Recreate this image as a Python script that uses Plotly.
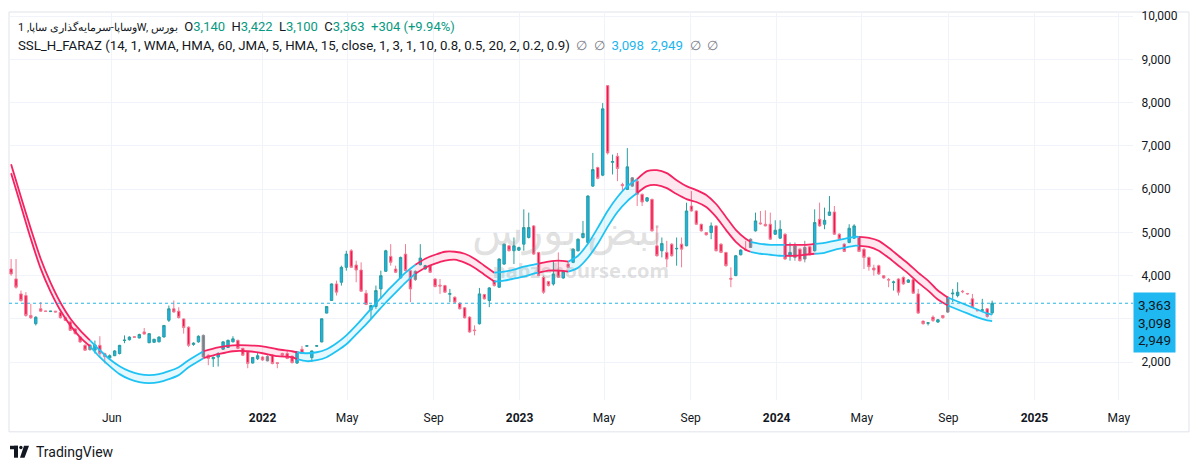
import plotly.graph_objects as go
import pandas as pd

# ---------------- data (weekly candles) ----------------
start_date = "2021-01-09"
opens = [4155, 3925, 3579, 3540, 3081, 2890, 3235, 3185, 3170, 3180,
         3150, 3030, 2930, 2770, 2583, 2391, 2390, 2280, 2391, 2200,
         2100, 2150, 2200, 2500, 2520, 2590, 2560, 2700, 2450, 2460,
         2470, 2583, 2970, 3235, 3180, 3000, 2810, 2410, 2470, 2620,
         2160, 2080, 2120, 2300, 2340, 2470, 2506, 2320, 2240, 1980,
         2080, 2120, 2130, 2160, 1990, 2200, 2200, 2140, 1980, 2300,
         2370, 2107, 2370, 2468, 3135, 3426, 3809, 3848, 4193, 4576,
         4246, 4131, 3595, 3211, 3288, 3694, 4101, 4446, 4154, 3947,
         4499, 4116, 3910, 4254, 4154, 4231, 3924, 3780, 3771, 3570,
         3503, 3365, 3257, 3042, 2745, 2889, 3564, 3426, 3886, 3733,
         4269, 4691, 4576, 4590, 4729, 4883, 5151, 4538, 3963, 3863,
         3809, 4131, 3947, 4269, 4308, 4576, 4883, 4768, 6071, 6500,
         6324, 8394, 6620, 6761, 6110, 5994, 6263, 6186, 5880, 5726,
         5765, 4691, 4576, 4538, 4729, 4620, 4729, 4691, 5611, 5496,
         5189, 4998, 4998, 5151, 4729, 4538, 3940, 4001, 4484, 4610,
         4653, 5036, 5220, 5189, 5189, 4959, 4867, 4959, 4461, 4423,
         4614, 4384, 4668, 4576, 5304, 5189, 5396, 5473, 4959, 4730,
         4768, 4867, 4883, 4614, 4423, 4177, 4231, 4001, 3910, 3840,
         3924, 3963, 3847, 3909, 3579, 2950, 2900, 3043, 2928, 3081,
         3158, 3580, 3541, 3640, 3590, 3465, 3200, 3200, 3234, 3140]
highs = [4385, 4385, 3656, 3620, 3350, 3060, 3390, 3190, 3185, 3185,
         3160, 3050, 2960, 2780, 2600, 2410, 2420, 2500, 2600, 2220,
         2180, 2280, 2400, 2620, 2600, 2600, 2660, 2790, 2670, 2540,
         2600, 2860, 3310, 3426, 3270, 3010, 2830, 2460, 2620, 2640,
         2180, 2130, 2230, 2480, 2520, 2600, 2520, 2330, 2250, 2120,
         2230, 2140, 2160, 2180, 2000, 2220, 2270, 2150, 2250, 2376,
         2390, 2270, 2385, 3010, 3295, 3820, 3886, 4231, 4576, 4614,
         4346, 4308, 3671, 3330, 3771, 4116, 4600, 4729, 4231, 4440,
         4729, 4130, 4120, 4729, 4250, 4250, 3940, 3924, 3790, 3694,
         3520, 3380, 3270, 3060, 2851, 3717, 3580, 3733, 3900, 4400,
         4740, 4700, 4883, 4670, 5534, 5458, 5170, 4550, 4001, 3880,
         4346, 4538, 4120, 4346, 4630, 4860, 5266, 5860, 6838, 6520,
         7990, 8394, 6800, 6838, 6150, 6950, 6280, 6263, 5900, 5820,
         5780, 5151, 4883, 4806, 4750, 4883, 4883, 5687, 5956, 5510,
         5200, 5010, 5230, 5170, 4750, 4550, 4193, 4480, 4610, 4806,
         4860, 5458, 5496, 5511, 5458, 5281, 5281, 4980, 4768, 4768,
         4630, 4806, 4690, 5534, 5688, 5573, 5841, 5611, 4980, 4750,
         5189, 5189, 4900, 4630, 4440, 4254, 4254, 4010, 3947, 3886,
         3940, 3980, 3920, 3920, 3694, 2960, 2930, 3081, 3000, 3090,
         3520, 3694, 3848, 3671, 3600, 3579, 3210, 3465, 3250, 3422]
lows = [4000, 3700, 3400, 3050, 3000, 2850, 3170, 3170, 3165, 3155,
        3010, 2950, 2720, 2640, 2450, 2260, 2270, 2200, 2100, 1970,
        2080, 2140, 2180, 2440, 2500, 2560, 2550, 2640, 2440, 2450,
        2460, 2570, 2930, 3150, 3010, 2660, 2350, 2380, 2450, 2110,
        1930, 1890, 1900, 2290, 2330, 2460, 2300, 2140, 1860, 1970,
        2050, 2030, 2020, 1950, 1860, 2140, 2070, 1970, 1960, 2190,
        2360, 2007, 2365, 2460, 3130, 3420, 3541, 3771, 4116, 4180,
        3848, 3630, 3320, 3004, 3234, 3464, 4090, 4231, 4060, 3930,
        4100, 3388, 3880, 4240, 4140, 4060, 3730, 3579, 3600, 3388,
        3370, 3220, 3010, 2680, 2621, 2870, 3450, 3273, 3750, 3720,
        4250, 4560, 4269, 4570, 4576, 4860, 4480, 3990, 3579, 3750,
        3771, 3950, 3930, 4180, 4290, 4560, 4860, 4750, 6050, 6230,
        6300, 6800, 6340, 6186, 5956, 5980, 6050, 5610, 5610, 5700,
        5020, 4440, 4423, 4193, 4440, 4231, 4193, 4680, 5480, 5170,
        5020, 4930, 4843, 4560, 4520, 4210, 3733, 3990, 4470, 4580,
        4640, 5020, 5180, 5140, 4830, 4940, 4850, 4370, 4346, 4346,
        4330, 4308, 4470, 4560, 5130, 5074, 5380, 4940, 4830, 4545,
        4750, 4850, 4545, 4155, 4116, 4001, 4020, 3930, 3733, 3656,
        3541, 3790, 3830, 3580, 3120, 2870, 2850, 2930, 2910, 3010,
        3140, 3388, 3500, 3595, 3560, 3260, 3180, 3158, 3030, 3100]
closes = [4040, 3733, 3426, 3081, 3028, 3040, 3180, 3175, 3180, 3160,
          3028, 2966, 2736, 2660, 2467, 2276, 2290, 2400, 2199, 2130,
          2150, 2260, 2390, 2510, 2580, 2575, 2640, 2650, 2660, 2530,
          2580, 2850, 3235, 3160, 3030, 2800, 2390, 2440, 2600, 2123,
          2085, 2110, 2200, 2470, 2506, 2540, 2320, 2160, 1970, 2110,
          2150, 2050, 2030, 1970, 1970, 2160, 2085, 1990, 2240, 2200,
          2380, 2261, 2380, 3004, 3288, 3809, 3618, 4193, 4499, 4193,
          4131, 3641, 3334, 3311, 3656, 4001, 4576, 4308, 4078, 4423,
          4116, 3694, 4100, 4407, 4231, 4078, 3748, 3760, 3618, 3585,
          3388, 3234, 3027, 2698, 2730, 3579, 3464, 3717, 3771, 4384,
          4729, 4576, 4691, 4650, 5113, 5113, 4499, 4001, 3618, 3771,
          4039, 3963, 4101, 4193, 4614, 4844, 4975, 5841, 6454, 6250,
          7857, 6838, 6640, 6477, 6080, 6516, 6071, 5880, 5703, 5800,
          5036, 4461, 4745, 4384, 4461, 4630, 4614, 5496, 5496, 5189,
          5036, 4944, 5151, 4576, 4538, 4231, 3920, 4461, 4591, 4595,
          4844, 5266, 5200, 5151, 4844, 5051, 5074, 4384, 4538, 4691,
          4346, 4653, 4484, 5228, 5151, 5281, 5473, 4959, 4845, 4561,
          5097, 5151, 4561, 4423, 4208, 4131, 4039, 3947, 3900, 3855,
          3618, 3809, 3900, 3595, 3135, 2889, 2910, 2966, 2981, 3027,
          3503, 3595, 3618, 3630, 3580, 3273, 3190, 3210, 3059, 3363]
# candles the indicator paints neutral grey (week indices)
gray_candles = [16, 39, 52, 82, 126, 150, 159, 161, 190]

# SSL channel (upper / lower line) sampled at week indices; bull = 1 blue, 0 red
band_idx = [0, 2, 4, 6, 8, 10, 12, 14, 16, 18, 20, 22, 24, 26, 28, 30, 32, 34, 36, 38,
            39, 42, 45, 48, 51, 54, 57, 58, 60, 62, 64, 66, 68, 70, 72, 74, 76, 78, 80,
            82, 84, 86, 88, 90, 92, 94, 96, 98, 100, 102, 104, 106, 107, 109, 111, 113,
            115, 117, 119, 121, 123, 125, 127, 129, 131, 133, 135, 137, 139, 141, 143,
            145, 147, 149, 150, 152, 154, 156, 157, 159, 161, 163, 165, 167, 169, 171,
            172, 174, 176, 178, 180, 182, 184, 186, 188, 190, 192, 194, 196, 198, 199]
band_upper = [6577, 5818, 5082, 4392, 3840, 3380, 3012, 2736, 2506, 2276, 2069, 1908,
              1793, 1724, 1701, 1724, 1793, 1885, 2046, 2184,
              2253, 2345, 2391, 2391, 2368, 2299, 2253, 2230, 2207, 2230, 2299, 2437,
              2621, 2851, 3104, 3357, 3610, 3840, 4070,
              4254, 4392, 4484, 4553, 4553, 4507, 4392, 4231, 4070, 4093, 4139, 4208,
              4254, 4277, 4323, 4346, 4323,
              4461, 4737, 5105, 5496, 5818, 6071, 6232, 6416, 6439, 6370, 6209, 6071,
              5979, 5864, 5657,
              5358, 5059, 4852, 4783, 4737, 4714, 4714, 4714, 4714, 4714, 4737, 4760,
              4806, 4852, 4898,
              4898, 4875, 4806, 4645, 4461, 4277, 4070, 3886, 3656, 3495, 3403, 3311,
              3219, 3127, 3098]
band_lower = [6370, 5611, 4852, 4162, 3633, 3196, 2851, 2575, 2368, 2115, 1908, 1724,
              1609, 1540, 1517, 1540, 1609, 1701, 1885, 2023,
              2092, 2184, 2253, 2253, 2207, 2138, 2115, 2069, 2023, 2046, 2115, 2253,
              2414, 2644, 2874, 3127, 3380, 3610, 3840,
              4047, 4185, 4277, 4346, 4369, 4300, 4185, 4024, 3863, 3886, 3932, 3978,
              4047, 4070, 4116, 4116, 4093,
              4185, 4415, 4737, 5128, 5473, 5726, 5910, 6071, 6094, 6025, 5887, 5772,
              5703, 5588, 5358,
              5059, 4783, 4599, 4553, 4507, 4484, 4461, 4461, 4461, 4484, 4507, 4530,
              4599, 4645, 4691,
              4691, 4668, 4576, 4415, 4231, 4047, 3840, 3656, 3449, 3311, 3219, 3127,
              3035, 2966, 2949]
band_bull = [0, 0, 0, 0, 0, 0, 0, 0, 1, 1, 1, 1, 1, 1, 1, 1, 1, 1, 1, 1,
             0, 0, 0, 0, 0, 0, 0, 1, 1, 1, 1, 1, 1, 1, 1, 1, 1, 1, 1,
             0, 0, 0, 0, 0, 0, 0, 0, 1, 1, 1, 1, 1, 0, 0, 0, 1,
             1, 1, 1, 1, 1, 1, 0, 0, 0, 0, 0, 0, 0, 0, 0,
             0, 0, 0, 1, 1, 1, 1, 0, 0, 0, 1, 1, 1, 1, 1,
             0, 0, 0, 0, 0, 0, 0, 0, 0, 1, 1, 1, 1, 1, 1]

tick_dates = ["2021-06-01", "2022-01-01", "2022-05-01", "2022-09-01", "2023-01-01",
              "2023-05-01", "2023-09-01", "2024-01-01", "2024-05-01", "2024-09-01",
              "2025-01-01", "2025-05-01"]
tick_text = ["Jun", "<b>2022</b>", "May", "Sep", "<b>2023</b>", "May", "Sep",
             "<b>2024</b>", "May", "Sep", "<b>2025</b>", "May"]
price_ticks = [2000, 3000, 4000, 5000, 6000, 7000, 8000, 9000, 10000]
hidden_price_labels = [3000]   # covered by the last-value box in the reference

symbol_title = "وساپا-سرمایه‌گذاری ساپا, 1W, بورس"
indicator_title = "SSL_H_FARAZ (14, 1, WMA, HMA, 60, JMA, 5, HMA, 15, close, 1, 3, 1, 10, 0.8, 0.5, 20, 2, 0.2, 0.9)"

# ---------------- figure ----------------
FONT = "Roboto, 'Open Sans', sans-serif"
W, H = 1200, 470
ML, MR, MT, MB = 9, 67, 10, 70
PW, PH = W - ML - MR, H - MT - MB

def px(x):
    return (x - ML) / PW

def py(y):
    return (H - MB - y) / PH

dates = pd.date_range(start_date, periods=len(opens), freq="7D")
bdates = [dates[i] for i in band_idx]

UP_FILL, UP_LINE = "#1ab3ea", "#2a9d9f"
DN_FILL, DN_LINE = "#f5154d", "#f27c95"
GR_FILL, GR_LINE = "#7c7f88", "#8a8d96"
BULL_LINE, BULL_FILL = "#1fc3f3", "rgba(31,195,243,0.12)"
BEAR_LINE, BEAR_FILL = "#f42462", "rgba(244,36,98,0.11)"

fig = go.Figure()

# watermark (behind everything)
fig.add_trace(go.Scatter(x=[pd.Timestamp("2023-03-10")], y=[4960], mode="text",
                         text=["نبض بورس"], textfont=dict(size=42, color="rgba(150,150,150,0.28)",
                                                           family="Noto Sans"),
                         hoverinfo="skip", showlegend=False))
fig.add_trace(go.Scatter(x=[pd.Timestamp("2023-03-29")], y=[4070], mode="text",
                         text=["<b>nabzebourse.com</b>"],
                         textfont=dict(size=20, color="rgba(150,150,150,0.30)", family="Noto Sans"),
                         hoverinfo="skip", showlegend=False))

# band segments
n = len(band_idx)
k = 0
while k < n - 1:
    state = band_bull[k]
    j = k
    while j < n - 1 and band_bull[j] == state:
        j += 1
    xs = bdates[k:j + 1]
    lc = BULL_LINE if state else BEAR_LINE
    fc = BULL_FILL if state else BEAR_FILL
    fig.add_trace(go.Scatter(x=xs, y=band_lower[k:j + 1], mode="lines",
                             line=dict(color=lc, width=1.8, shape="spline", smoothing=0.8),
                             hoverinfo="skip", showlegend=False))
    fig.add_trace(go.Scatter(x=xs, y=band_upper[k:j + 1], mode="lines", fill="tonexty",
                             fillcolor=fc,
                             line=dict(color=lc, width=1.8, shape="spline", smoothing=0.8),
                             hoverinfo="skip", showlegend=False))
    k = j

norm = [i for i in range(len(opens)) if i not in gray_candles]
fig.add_trace(go.Candlestick(
    x=[dates[i] for i in norm], open=[opens[i] for i in norm], high=[highs[i] for i in norm],
    low=[lows[i] for i in norm], close=[closes[i] for i in norm],
    increasing=dict(fillcolor=UP_FILL, line=dict(color=UP_LINE, width=1)),
    decreasing=dict(fillcolor=DN_FILL, line=dict(color=DN_LINE, width=1)),
    whiskerwidth=0, showlegend=False))
fig.add_trace(go.Candlestick(
    x=[dates[i] for i in gray_candles], open=[opens[i] for i in gray_candles],
    high=[highs[i] for i in gray_candles], low=[lows[i] for i in gray_candles],
    close=[closes[i] for i in gray_candles],
    increasing=dict(fillcolor=GR_FILL, line=dict(color=GR_LINE, width=1)),
    decreasing=dict(fillcolor=GR_FILL, line=dict(color=GR_LINE, width=1)),
    whiskerwidth=0, showlegend=False))

last_close = closes[-1]
fig.add_shape(type="line", xref="paper", yref="y", x0=0, x1=1, y0=last_close, y1=last_close,
              line=dict(color="#22b5e6", width=1, dash="dot"))

# outer frame
fig.add_shape(type="rect", xref="paper", yref="paper", x0=0, x1=px(1189), y0=py(432), y1=1,
              line=dict(color="#e0e3eb", width=1), fillcolor="rgba(0,0,0,0)", layer="below")

green = "#089981"
chg = closes[-1] - closes[-2]
pct = chg / closes[-2] * 100
GAP = "\u00a0\u00a0"
line1 = (f"<span style='font-size:11px'>{symbol_title}</span>{GAP}"
         f"O<span style='color:{green}'>{opens[-1]:,}</span>{GAP}"
         f"H<span style='color:{green}'>{highs[-1]:,}</span>{GAP}"
         f"L<span style='color:{green}'>{lows[-1]:,}</span>{GAP}"
         f"C<span style='color:{green}'>{closes[-1]:,}</span>{GAP}"
         f"<span style='color:{green}'>+{chg:,} (+{pct:.2f}%)</span>")
fig.add_annotation(xref="paper", yref="paper", x=px(16), y=py(25), xanchor="left", yanchor="middle",
                   text=line1, showarrow=False, font=dict(family=FONT, size=13, color="#131722"))
line2 = (f"{indicator_title}{GAP}<span style='color:#787b86'>∅{GAP}∅</span>{GAP}"
         f"<span style='color:#1cb5ee'>{band_upper[-1]:,}{GAP}{band_lower[-1]:,}</span>{GAP}"
         f"<span style='color:#787b86'>∅{GAP}∅</span>")
fig.add_annotation(xref="paper", yref="paper", x=px(16), y=py(44), xanchor="left", yanchor="middle",
                   text=line2, showarrow=False, font=dict(family=FONT, size=13.25, color="#131722"))

# price label box
fig.add_annotation(xref="paper", yref="y", x=1.0, y=last_close, xanchor="left", yanchor="top",
                   yshift=11, text=f"{closes[-1]:,}<br>{band_upper[-1]:,}<br>{band_lower[-1]:,}",
                   showarrow=False, align="right", bgcolor="#20b8f0", borderpad=4,
                   font=dict(family=FONT, size=13.5, color="#131722"))

# TradingView footer
fig.add_annotation(xref="paper", yref="paper", x=px(34), y=py(452), xanchor="left", yanchor="middle",
                   text="TradingView", showarrow=False,
                   font=dict(family=FONT, size=14, color="#131722"))
fig.add_shape(type="rect", xref="paper", yref="paper", x0=px(10), x1=px(18), y0=py(449.5), y1=py(446),
              fillcolor="#131722", line=dict(width=0))
fig.add_shape(type="rect", xref="paper", yref="paper", x0=px(14), x1=px(18), y0=py(458), y1=py(446),
              fillcolor="#131722", line=dict(width=0))
fig.add_shape(type="circle", xref="paper", yref="paper", x0=px(19.2), x1=px(22.6), y0=py(449.5), y1=py(446),
              fillcolor="#131722", line=dict(width=0))
fig.add_shape(type="path", xref="paper", yref="paper",
              path=f"M {px(24)} {py(446)} L {px(29)} {py(446)} L {px(24.5)} {py(458)} L {px(20)} {py(458)} Z",
              fillcolor="#131722", line=dict(width=0))

fig.update_layout(
    width=W, height=H, margin=dict(l=ML, r=MR, t=MT, b=MB),
    paper_bgcolor="white", plot_bgcolor="white", showlegend=False,
    font=dict(family=FONT, size=12, color="#131722"),
    hovermode=False,
)
fig.update_xaxes(type="date", range=["2021-01-06", "2025-05-21"], rangeslider_visible=False,
                 tickvals=tick_dates, ticktext=tick_text, showgrid=True, gridcolor="#f0f3fa",
                 ticks="outside", ticklen=7, tickcolor="rgba(0,0,0,0)", zeroline=False,
                 showline=False, tickfont=dict(size=12, color="#131722"))
fig.update_yaxes(side="right", range=[1126, 10096], tickvals=price_ticks,
                 ticktext=["" if v in hidden_price_labels else f"{v:,}" for v in price_ticks],
                 showgrid=True, gridcolor="#f0f3fa",
                 ticks="outside", ticklen=5, tickcolor="rgba(0,0,0,0)", zeroline=False,
                 showline=False, tickfont=dict(size=12, color="#131722"))

fig.write_html("out.html", config={"displayModeBar": False},
               post_script="document.body.style.margin='0';")
